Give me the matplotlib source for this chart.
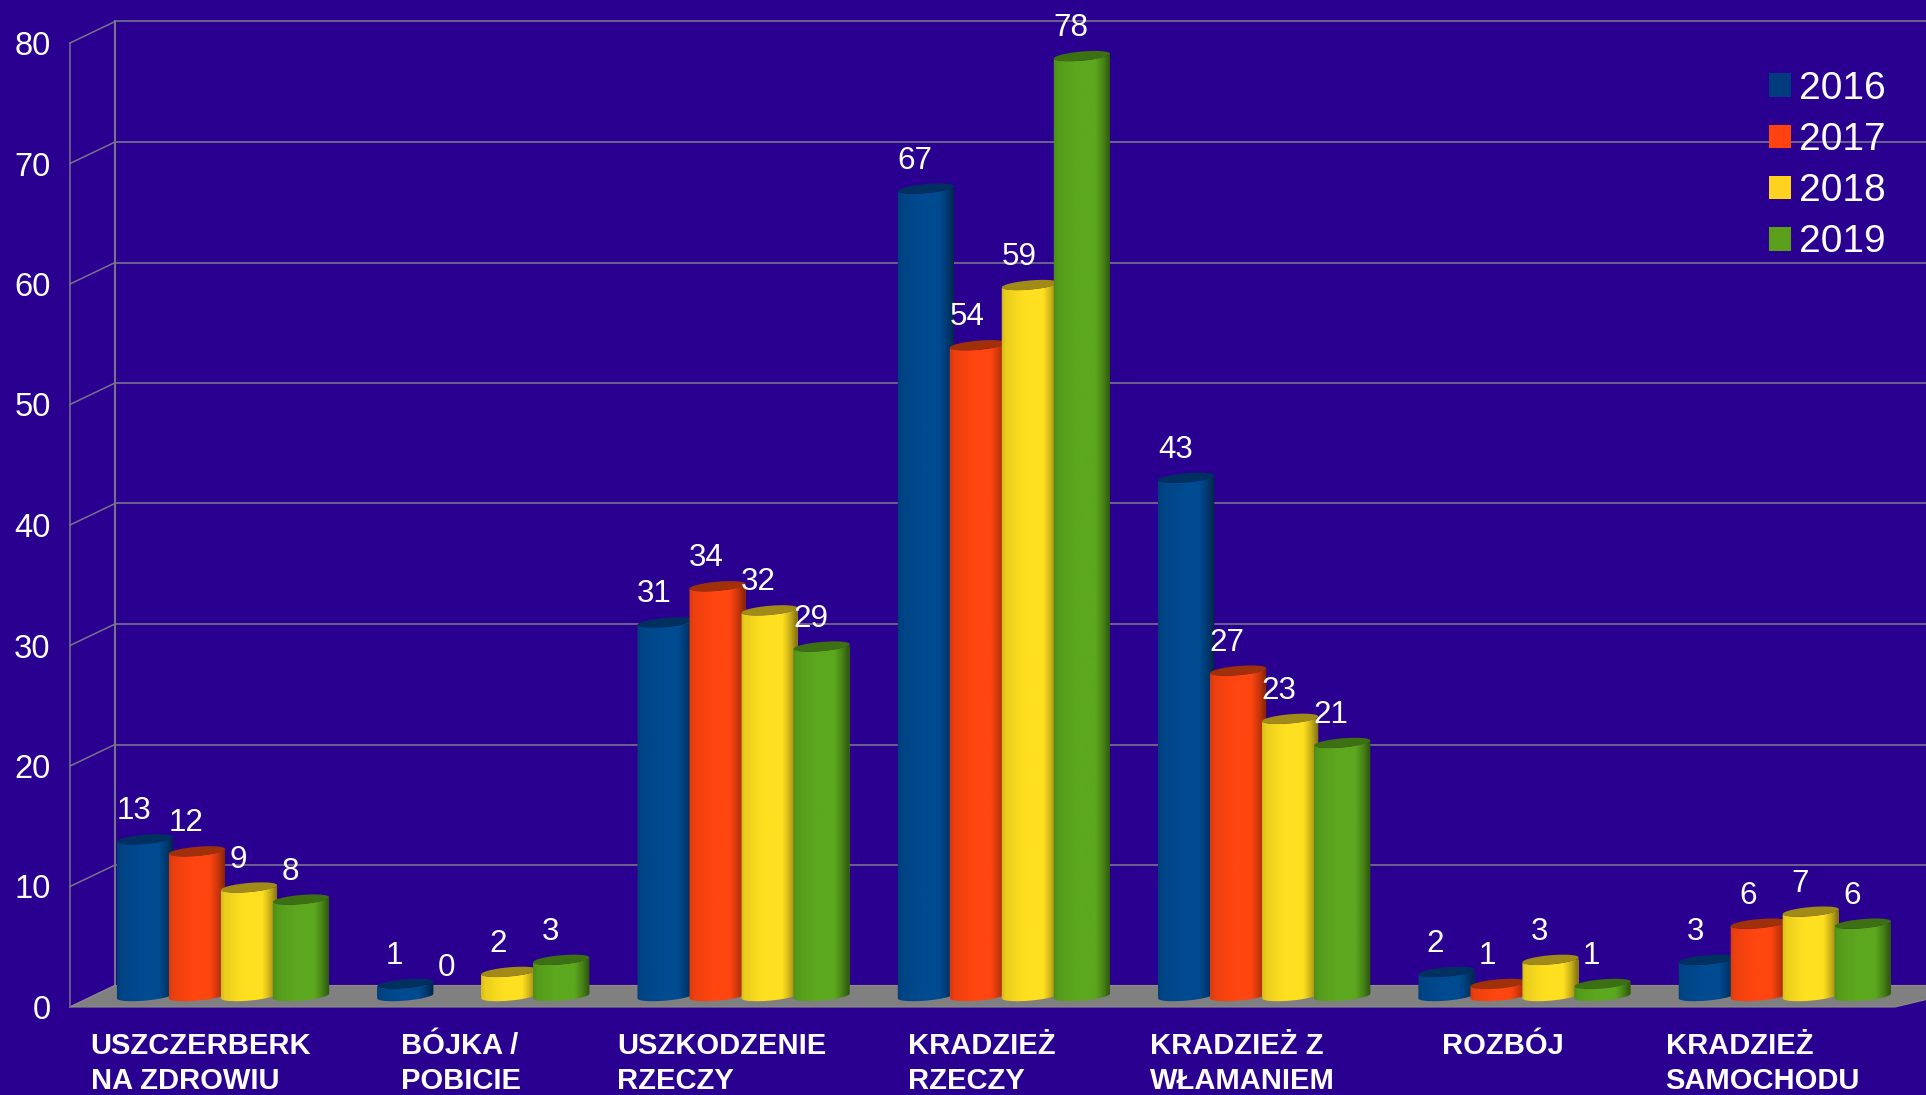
import numpy as np
import matplotlib
matplotlib.use("Agg")
import matplotlib.pyplot as plt
from matplotlib.patches import Patch, Polygon
from matplotlib.transforms import ScaledTranslation

categories = ["USZCZERBERK\nNA ZDROWIU", "BÓJKA /\nPOBICIE", "USZKODZENIE\nRZECZY",
              "KRADZIEŻ\nRZECZY", "KRADZIEŻ Z\nWŁAMANIEM", "ROZBÓJ", "KRADZIEŻ\nSAMOCHODU"]
years = ["2016", "2017", "2018", "2019"]
v2016 = [13, 1, 31, 67, 43, 2, 3]
v2017 = [12, 0, 34, 54, 27, 1, 6]
v2018 = [9, 2, 32, 59, 23, 3, 7]
v2019 = [8, 3, 29, 78, 21, 1, 6]
series = [v2016, v2017, v2018, v2019]
yticks = [0, 10, 20, 30, 40, 50, 60, 70, 80]

BG = "#2A0090"
GRID = "#78728C"
FLOOR = "#808080"
body = ["#004A90", "#FF4510", "#FFE020", "#5CA81E"]
lid = ["#003060", "#A0300A", "#A08A18", "#3C7012"]
legend_col = ["#003C7E", "#FF4210", "#FFD21F", "#5A9E1A"]

plt.rcParams["font.family"] = ["Liberation Sans", "DejaVu Sans"]
W, H = 1926, 1095
fig = plt.figure(figsize=(W / 100, H / 100), dpi=100, facecolor=BG)

# Axes frame = front plane of the 3D box
L, R, B, T = 70, 1926, 1007, 43
ax = fig.add_axes([L / W, 1 - B / H, (R - L) / W, (B - T) / H], facecolor="none")
SX = 260.3                    # px per category
SY = (B - T) / 80             # px per value unit
xlim = ((L - 223) / SX, (R - 223) / SX)
ax.set_xlim(*xlim)
ax.set_ylim(0, 80)

DX, DY = 45 / SX, 21.5 / SY    # depth of the box
BASE = 11 / SY                 # bars stand on the middle of the floor
BW, PITCH = 56 / SX, 52 / SX
A, Bb, TH = 28.2, 4.6, np.radians(5)


def ell(cx, cy, t):
    px = A * np.cos(t) * np.cos(TH) - Bb * np.sin(t) * np.sin(TH)
    py = A * np.cos(t) * np.sin(TH) + Bb * np.sin(t) * np.cos(TH)
    return cx + px / SX, cy + py / SY


# back wall and side wall
ax.hlines(np.array(yticks) + DY, xlim[0] + DX, xlim[1] + DX, color=GRID, lw=1.2, zorder=0.5, clip_on=False)
for v in yticks:
    ax.plot([xlim[0], xlim[0] + DX], [v, v + DY], color=GRID, lw=1.1, zorder=0.6, clip_on=False)
ax.plot([xlim[0] + DX] * 2, [DY, 80 + DY], color=GRID, lw=1.5, zorder=0.6, clip_on=False)
floor = Polygon([(xlim[0], 0), (xlim[0] + DX, DY), (xlim[1] + DX + 14 / SX, DY),
                 ((1895 - 223) / SX, 0)], closed=True, facecolor=FLOOR,
                edgecolor="#8C8C8C", lw=0.8, zorder=1, clip_on=False)
ax.add_patch(floor)

shade_pos = [0.0, 0.08, 0.4, 0.72, 0.86, 1.0]
shade_val = [0.82, 0.92, 1.0, 1.0, 0.78, 0.45]
xs = np.linspace(0, 1, 64)
shade = np.interp(xs, shade_pos, shade_val)

for s, vals in enumerate(series):
    z = 3 + s * 0.1
    rgb = np.array(matplotlib.colors.to_rgb(body[s]))
    grad = (shade[:, None] * rgb)[None, :, :]
    x = np.arange(len(vals)) + (s - 1.5) * PITCH
    bars = ax.bar(x, vals, BW, bottom=BASE, color=body[s], zorder=z, linewidth=0)
    for cx, v, rect in zip(x, vals, bars):
        top = BASE + v
        if v > 0:
            tl = np.linspace(np.pi, 2 * np.pi, 40)
            xb, yb = ell(cx, BASE, tl)
            xt, yt = ell(cx, top, tl[::-1])
            cyl = Polygon(np.r_[np.c_[xb, yb], np.c_[xt, yt]], closed=True,
                          transform=ax.transData)
            im = ax.imshow(grad, extent=(cx - BW / 2 - 0.005, cx + BW / 2 + 0.005,
                                         BASE - 1, top + 1),
                           aspect="auto", interpolation="bilinear", zorder=z + 0.01)
            im.set_clip_path(cyl)
            rect.set_clip_path(cyl)
            ta = np.linspace(0, 2 * np.pi, 80)
            ax.add_patch(Polygon(np.c_[ell(cx, top, ta)], closed=True, facecolor=lid[s],
                                 edgecolor="none", zorder=z + 0.02, clip_on=False))
        ax.annotate(str(v), (cx, top), xytext=(-11 * 0.72, 28 * 0.72), textcoords="offset points",
                    ha="center", va="center", color="white", fontsize=22.6, zorder=10,
                    annotation_clip=False)

ax.set_xlim(*xlim)
ax.set_ylim(0, 80)

for name in ("top", "right", "bottom"):
    ax.spines[name].set_visible(False)
ax.spines["left"].set_color(GRID)
ax.spines["left"].set_linewidth(1.1)
ax.set_yticks(yticks)
ax.set_yticklabels([str(v) for v in yticks], color="white", fontsize=23.6)
ax.tick_params(axis="y", length=0, pad=14)
ax.set_xticks(np.arange(len(categories)))
ax.set_xticklabels(categories, color="white", fontsize=21.0, fontweight="bold",
                   multialignment="left", linespacing=1.33, va="top")
ax.tick_params(axis="x", length=0, pad=18)
shift = ScaledTranslation(-22 / 100, 0, fig.dpi_scale_trans)
for lab in ax.get_xticklabels():
    lab.set_transform(lab.get_transform() + shift)

handles = [Patch(facecolor=c, edgecolor="none", label=y) for c, y in zip(legend_col, years)]
leg = ax.legend(handles=handles, loc="upper left", frameon=False, fontsize=28,
                bbox_to_anchor=(1769 / W, 1 - 71 / H), bbox_transform=fig.transFigure,
                borderpad=0, borderaxespad=0, handlelength=0.56, handleheight=0.56,
                handletextpad=0.22, labelspacing=0.39, labelcolor="white")
leg.set_zorder(12)

fig.savefig("out.png", dpi=100, facecolor=BG)
